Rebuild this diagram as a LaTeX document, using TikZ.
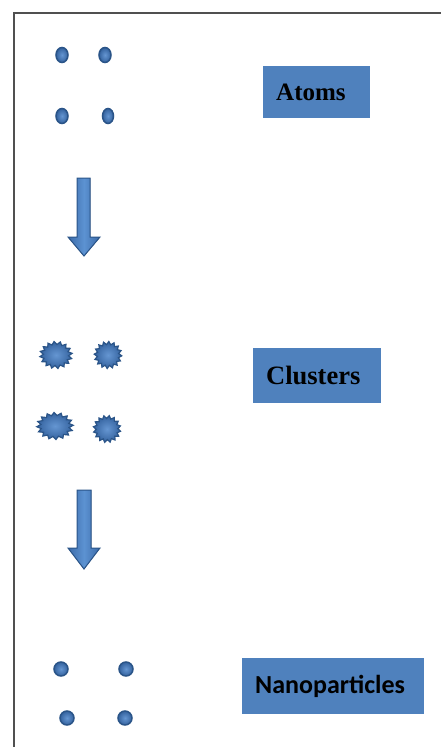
\documentclass[tikz,border=0pt]{standalone}
\usepackage{fontspec}
\setmainfont{Liberation Serif}
\newfontfamily\boxsans{Carlito}
\usepackage{tikz}
\usetikzlibrary{shapes.geometric}
\definecolor{boxblue}{HTML}{4F81BD}
\definecolor{dotedge}{HTML}{2A5488}
\definecolor{dotin}{HTML}{6596D2}
\definecolor{dotout}{HTML}{34629E}
\definecolor{arrowlight}{HTML}{5C92D2}
\definecolor{arrowdark}{HTML}{3C6BA8}
\definecolor{framegray}{HTML}{505050}

\begin{document}
\begin{tikzpicture}[x=1pt, y=-1pt]
  \tikzstyle{atom} = [ellipse, inner sep = 0,
                      minimum width = 12pt, minimum height = 15pt,
                      draw = dotedge, line width = 1.5pt,
                      inner color = dotin, outer color = dotout]
  \tikzstyle{nano} = [circle, inner sep = 0, minimum size = 14pt,
                      draw = dotedge, line width = 1.5pt,
                      inner color = dotin, outer color = dotout]
  \tikzstyle{cluster} = [star, inner sep = 0,
                         star points = 16,
                         star point ratio = 1.28,
                         minimum size = 27pt,
                         draw = dotedge, line width = 1.2pt,
                         inner color = dotin, outer color = dotout]
  \tikzstyle{label} = [anchor = north west, fill = boxblue,
                       inner xsep = 13pt, inner ysep = 0,
                       align = left, font = \bfseries]
  \tikzstyle{blockarrow} = [draw = dotedge, line width = 1pt,
                            line join = miter,
                            left color = arrowdark, right color = arrowdark,
                            middle color = arrowlight]
\useasboundingbox (0,0) rectangle (440,747);
\draw[framegray, line width = 2.8pt] (441,13) -| (14,748);

% atoms
\node[atom] (atom1) at (62,55) {};
\node[atom] (atom2) at (105,55) {};
\node[atom] (atom3) at (62,116) {};
\node[atom, minimum width = 11pt] (atom4) at (108,116) {};
\node[label, text width = 81pt, minimum height = 52pt,
      font = \bfseries\fontsize{25}{28}\selectfont] (atoms) at (263,66) {Atoms};

\filldraw[blockarrow] (77,178) -- (90,178) -- (90,237) -- (100,237)
  -- (84,256) -- (68,237) -- (77,237) -- cycle;

% clusters
\node[cluster, xscale = 1.2, rotate = 7] (clu1) at (56,355) {};
\node[cluster, xscale = 1.02, rotate = 19] (clu2) at (108,355) {};
\node[cluster, xscale = 1.35, rotate = 3] (clu3) at (55,426) {};
\node[cluster, xscale = 1.02, rotate = 13] (clu4) at (107,429) {};
\node[label, text width = 102pt, minimum height = 55pt,
      font = \bfseries\fontsize{26.5}{30}\selectfont] (clusters) at (253,348) {Clusters};

\filldraw[blockarrow] (77,490) -- (91,490) -- (91,548) -- (100,548)
  -- (84,569) -- (68,548) -- (77,548) -- cycle;

% nanoparticles
\node[nano] (nano1) at (61,669) {};
\node[nano] (nano2) at (126,669) {};
\node[nano] (nano3) at (67,718) {};
\node[nano] (nano4) at (125,718) {};
\node[label, text width = 156pt, minimum height = 56pt,
      font = \boxsans\bfseries\fontsize{26}{30}\selectfont] (nanoparticles) at (242,658) {Nanoparticles};

\end{tikzpicture}
\end{document}
